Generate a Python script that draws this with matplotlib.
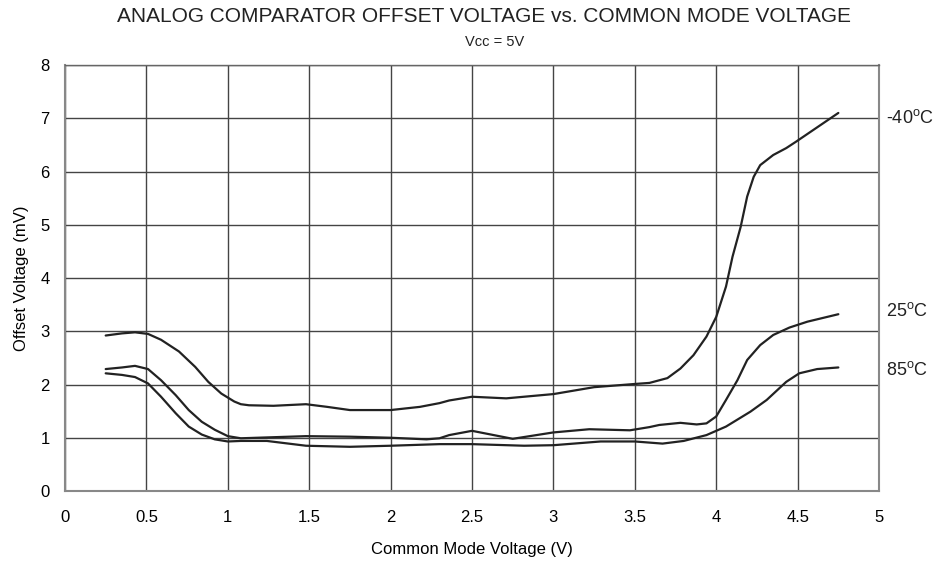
import matplotlib
matplotlib.use("Agg")
import matplotlib.pyplot as plt

plt.rcParams['font.family'] = ['Liberation Sans', 'DejaVu Sans']
plt.rcParams['mathtext.fontset'] = 'custom'
plt.rcParams['mathtext.rm'] = 'Liberation Sans'

# Offset voltage (mV) vs common mode voltage (V) at three temperatures
x_m40 = [0.25, 0.35, 0.43, 0.51, 0.59, 0.70, 0.80, 0.88, 0.96, 1.04, 1.08, 1.13, 1.28, 1.48,
         1.61, 1.75, 2.0, 2.18, 2.30, 2.36, 2.50, 2.71, 3.0, 3.25, 3.50, 3.59, 3.70, 3.78,
         3.86, 3.94, 4.00, 4.06, 4.10, 4.15, 4.19, 4.23, 4.27, 4.35, 4.43, 4.49, 4.62, 4.75]
y_m40 = [2.92, 2.96, 2.98, 2.95, 2.84, 2.62, 2.33, 2.05, 1.83, 1.68, 1.63, 1.61, 1.60, 1.63,
         1.58, 1.52, 1.52, 1.58, 1.65, 1.70, 1.77, 1.74, 1.82, 1.95, 2.01, 2.03, 2.12, 2.30,
         2.55, 2.90, 3.27, 3.84, 4.40, 4.96, 5.53, 5.90, 6.12, 6.31, 6.44, 6.56, 6.83, 7.10]

x_25 = [0.25, 0.35, 0.43, 0.51, 0.59, 0.68, 0.76, 0.84, 0.92, 1.00, 1.08, 1.28, 1.48, 1.75,
        2.0, 2.22, 2.30, 2.36, 2.50, 2.75, 3.0, 3.22, 3.47, 3.59, 3.65, 3.78, 3.88, 3.94,
        4.00, 4.06, 4.13, 4.19, 4.27, 4.35, 4.45, 4.56, 4.75]
y_25 = [2.29, 2.32, 2.35, 2.29, 2.08, 1.80, 1.52, 1.30, 1.15, 1.03, 0.99, 1.01, 1.03, 1.02,
        1.00, 0.97, 0.99, 1.05, 1.13, 0.98, 1.10, 1.16, 1.14, 1.20, 1.24, 1.28, 1.25, 1.27,
        1.40, 1.71, 2.08, 2.46, 2.74, 2.93, 3.07, 3.18, 3.32]

x_85 = [0.25, 0.35, 0.43, 0.51, 0.59, 0.68, 0.76, 0.84, 0.92, 1.00, 1.08, 1.24, 1.48, 1.75,
        2.0, 2.30, 2.50, 2.82, 3.0, 3.29, 3.50, 3.67, 3.80, 3.94, 4.06, 4.21, 4.31, 4.43,
        4.51, 4.62, 4.75]
y_85 = [2.21, 2.18, 2.14, 2.02, 1.77, 1.46, 1.21, 1.06, 0.97, 0.93, 0.94, 0.94, 0.85, 0.83,
        0.85, 0.88, 0.88, 0.85, 0.86, 0.93, 0.93, 0.89, 0.94, 1.05, 1.21, 1.49, 1.71, 2.05,
        2.21, 2.29, 2.32]

curve_labels = ["-40$^\\mathrm{o}$C", "25$^\\mathrm{o}$C", "85$^\\mathrm{o}$C"]
label_y = [7.0, 3.38, 2.27]

x_ticks = [0, 0.5, 1, 1.5, 2, 2.5, 3, 3.5, 4, 4.5, 5]
x_tick_labels = ["0", "0.5", "1", "1.5", "2", "2.5", "3", "3.5", "4", "4.5", "5"]
y_ticks = [0, 1, 2, 3, 4, 5, 6, 7, 8]

fig = plt.figure(figsize=(9.53, 5.63), dpi=100)
ax = fig.add_axes([0.0682, 0.1279, 0.8542, 0.7566])

for xs, ys in [(x_m40, y_m40), (x_25, y_25), (x_85, y_85)]:
    ax.plot(xs, ys, color="#222222", lw=1.6, solid_joinstyle="round",
            solid_capstyle="round", zorder=3)

ax.set_xlim(0, 5)
ax.set_ylim(0, 8)
ax.set_xticks(x_ticks)
ax.set_xticklabels(x_tick_labels)
ax.set_yticks(y_ticks)
ax.grid(True, color="#444444", lw=1.0)
ax.tick_params(length=0, labelsize=12)
ax.tick_params(axis='x', pad=14)
ax.tick_params(axis='y', pad=11)
for s in ax.spines.values():
    s.set_color("#888888")
    s.set_linewidth(1.5)
ax.spines['top'].set_color("#666666")
ax.spines['top'].set_linewidth(1.0)

for lab, yv in zip(curve_labels, label_y):
    ax.text(1.008, yv / 8, lab, transform=ax.transAxes, ha="left", va="center",
            fontsize=13, color="#222222")

ax.set_xlabel("Common Mode Voltage (V)", fontsize=12, labelpad=12)
ax.set_ylabel("Offset Voltage (mV)", fontsize=12, labelpad=8)

fig.text(0.508, 0.970, "ANALOG COMPARATOR OFFSET VOLTAGE vs. COMMON MODE VOLTAGE",
         ha="center", va="center", fontsize=15, color="#222222")
fig.text(0.519, 0.925, "Vcc = 5V", ha="center", va="center", fontsize=10.5, color="#222222")

fig.savefig("out.png", dpi=100)
